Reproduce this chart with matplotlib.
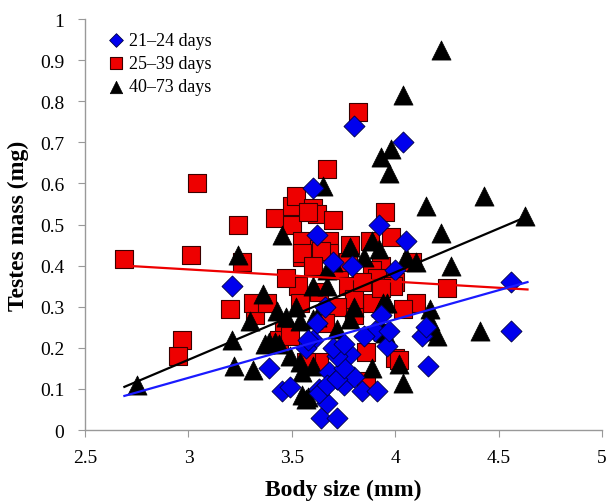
import matplotlib
matplotlib.use("Agg")
import matplotlib.pyplot as plt
import numpy as np

plt.rcParams['font.family'] = ['Liberation Serif', 'DejaVu Serif']

# 21-24 days (blue diamonds)
blue_x = [3.80, 4.04, 3.21, 3.60, 3.62, 3.92, 4.05, 3.79, 4.00, 4.56, 4.56, 4.16, 4.13, 4.15, 3.90, 3.96,
          3.78, 3.60, 3.57, 3.68, 3.72, 3.75, 3.63, 3.67, 3.64, 3.72, 3.80, 3.84, 3.91, 3.39, 3.45, 3.49,
          3.58, 3.63, 3.67, 3.72, 3.75, 3.72, 3.70, 3.75, 3.85, 3.66, 3.62, 3.93, 3.70, 3.97]
blue_y = [0.74, 0.70, 0.35, 0.59, 0.475, 0.50, 0.46, 0.40, 0.39, 0.36, 0.24, 0.155, 0.23, 0.25, 0.24, 0.205,
          0.185, 0.22, 0.20, 0.14, 0.125, 0.11, 0.10, 0.065, 0.03, 0.03, 0.13, 0.095, 0.095, 0.15, 0.095, 0.105,
          0.22, 0.09, 0.11, 0.125, 0.15, 0.18, 0.20, 0.21, 0.23, 0.30, 0.26, 0.28, 0.41, 0.24]

# 25-39 days (red squares)
red_x = [2.69, 3.01, 3.04, 2.97, 2.95, 3.24, 3.20, 3.32, 3.31, 3.26, 3.42, 3.50, 3.52, 3.50, 3.55, 3.55,
         3.60, 3.62, 3.67, 3.63, 3.82, 3.95, 3.70, 3.98, 3.88, 4.08, 4.25, 4.00, 3.93, 3.68, 4.10, 3.86,
         4.00, 3.86, 3.78, 3.68, 3.55, 3.64, 3.53, 3.54, 3.63, 3.38, 3.46, 3.73, 3.77, 3.89, 3.91, 3.99,
         3.77, 3.89, 4.04, 3.80, 3.80, 3.44, 3.49, 3.63, 3.57, 3.60, 3.84, 3.72, 3.93, 3.66, 4.02, 3.58, 3.47]
red_y = [0.415, 0.425, 0.60, 0.22, 0.18, 0.50, 0.295, 0.28, 0.31, 0.41, 0.515, 0.545, 0.57, 0.50, 0.46, 0.42,
         0.54, 0.525, 0.635, 0.44, 0.775, 0.53, 0.51, 0.47, 0.46, 0.41, 0.345, 0.36, 0.40, 0.46, 0.31, 0.19,
         0.175, 0.12, 0.45, 0.43, 0.43, 0.435, 0.35, 0.31, 0.335, 0.31, 0.24, 0.39, 0.41, 0.39, 0.37, 0.35,
         0.35, 0.31, 0.295, 0.28, 0.32, 0.22, 0.23, 0.165, 0.165, 0.40, 0.36, 0.30, 0.345, 0.26, 0.17, 0.53, 0.37]

# 40-73 days (black triangles)
black_x = [4.22, 4.04, 3.93, 3.98, 3.97, 3.65, 4.43, 4.15, 4.63, 4.22, 4.27, 3.78, 3.89, 3.92, 4.05, 3.70,
           3.67, 3.60, 3.67, 3.45, 3.24, 3.36, 2.75, 3.21, 3.22, 3.31, 3.30, 3.43, 3.47, 3.54, 3.62, 3.37,
           3.44, 3.49, 3.55, 3.58, 4.41, 4.18, 4.20, 4.17, 4.02, 4.04, 3.95, 3.89, 4.17, 3.93, 3.96, 3.55,
           3.60, 3.72, 3.78, 4.10, 3.80, 3.94, 3.94, 3.57, 3.54, 3.60, 3.39, 3.42, 3.52, 3.85]
black_y = [0.925, 0.815, 0.665, 0.685, 0.625, 0.595, 0.57, 0.545, 0.52, 0.48, 0.40, 0.445, 0.46, 0.44, 0.42, 0.41,
           0.39, 0.35, 0.35, 0.475, 0.425, 0.33, 0.11, 0.22, 0.155, 0.145, 0.265, 0.29, 0.275, 0.265, 0.275, 0.21,
           0.21, 0.18, 0.14, 0.08, 0.24, 0.24, 0.23, 0.265, 0.16, 0.115, 0.235, 0.15, 0.295, 0.30, 0.31, 0.085,
           0.27, 0.245, 0.27, 0.41, 0.30, 0.31, 0.24, 0.075, 0.165, 0.155, 0.215, 0.215, 0.30, 0.42]

# Fitted trend lines (endpoints)
fit_x = [2.69, 4.64]
blue_fit = [0.083, 0.360]
red_fit = [0.400, 0.342]
black_fit = [0.105, 0.520]

labels = ['21\u201224 days', '25\u201239 days', '40\u201273 days']

fig = plt.figure(figsize=(6.08, 5.02), dpi=100)
ax = fig.add_axes([0.14, 0.1414, 0.85, 0.8186])

ax.scatter(red_x, red_y, marker='s', s=170, c='#ee0000', edgecolors='#3a0000', linewidths=0.8,
           label=labels[1], zorder=2)
ax.scatter(black_x, black_y, marker='^', s=190, c='black', edgecolors='black', linewidths=0.5,
           label=labels[2], zorder=3)
ax.scatter(blue_x, blue_y, marker='D', s=115, c='#0000ee', edgecolors='#000044', linewidths=0.6,
           label=labels[0], zorder=4)

ax.plot(fit_x, red_fit, color='#ee0000', lw=1.6, zorder=5)
ax.plot(fit_x, blue_fit, color='#1a1aff', lw=1.6, zorder=5)
ax.plot(fit_x, black_fit, color='black', lw=1.6, zorder=5)

ax.set_xlim(2.5, 5)
ax.set_ylim(0, 1)
ax.set_xticks(np.arange(2.5, 5.01, 0.5))
ax.set_xticklabels(['2.5', '3', '3.5', '4', '4.5', '5'])
ax.set_yticks(np.arange(0, 1.01, 0.1))
ax.set_yticklabels(['0', '0.1', '0.2', '0.3', '0.4', '0.5', '0.6', '0.7', '0.8', '0.9', '1'])

for side in ['top', 'right']:
    ax.spines[side].set_visible(False)
for side in ['left', 'bottom']:
    ax.spines[side].set_color('#999999')
    ax.spines[side].set_linewidth(1.0)
ax.tick_params(direction='out', color='#999999', length=5, labelsize=14)
ax.tick_params(axis='x', pad=9)
ax.tick_params(axis='y', pad=10)

ax.set_xlabel('Body size (mm)', fontsize=17, fontweight='bold', labelpad=9)
ax.set_ylabel('Testes mass (mg)', fontsize=17, fontweight='bold', labelpad=8)

handles, labs = ax.get_legend_handles_labels()
h = [handles[i] for i in [2, 0, 1]]
l = [labs[i] for i in [2, 0, 1]]
leg = ax.legend(h, l, loc='upper left', bbox_to_anchor=(0.015, 1.0), frameon=False, fontsize=13,
                handletextpad=0.1, labelspacing=0.35, markerscale=0.65, borderpad=0.2, handlelength=1.2)

fig.savefig('out.png', dpi=100)
